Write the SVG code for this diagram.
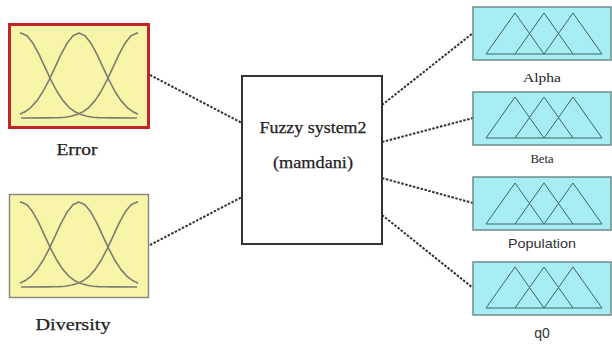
<svg xmlns="http://www.w3.org/2000/svg" xmlns:xlink="http://www.w3.org/1999/xlink" width="612" height="344" viewBox="0 0 612 344">
<style>
.in{fill:#f8f5a8}
.out{fill:#a6eef3;stroke:#6f8c8c;stroke-width:1.5}
.mf{fill:none;stroke:#7c7c70;stroke-width:1.6;stroke-linejoin:round}
.tri{fill:none;stroke:#3f6464;stroke-width:1}
.conn{fill:none;stroke:#333;stroke-width:2;stroke-dasharray:2.5 1.5}
.serif{font-family:'Liberation Serif','Times New Roman',serif;fill:#222;text-anchor:middle}
.heavy{stroke:#222;stroke-width:0.25}
.sans{font-family:'Liberation Sans',Arial,sans-serif;fill:#333;text-anchor:middle}
</style>
<defs>
<path id="g" d="M-116,0 L-90,-0.1 L-84,-0.2 L-78,-0.4 L-72,-0.8 L-66,-1.7 L-60,-3.4 L-54,-6.2 L-48,-10.7 L-42,-17.4 L-36,-26.5 L-30,-37.9 L-24,-50.7 L-18,-63.6 L-12,-74.7 L-6,-82.3 L0,-85 L6,-82.3 L12,-74.7 L18,-63.6 L24,-50.7 L30,-37.9 L36,-26.5 L42,-17.4 L48,-10.7 L54,-6.2 L60,-3.4 L66,-1.7 L72,-0.8 L78,-0.4 L84,-0.2 L90,-0.1 L116,0"/>
<clipPath id="gc"><rect x="-1" y="-90" width="118" height="93"/></clipPath>
<g id="gauss" clip-path="url(#gc)">
<use xlink:href="#g" class="mf"/>
<use xlink:href="#g" class="mf" x="58"/>
<use xlink:href="#g" class="mf" x="116"/>
</g>
<path id="tris" class="tri" d="M-29,41 L0,0 L29,41 M0,41 L29,0 L58,41 M29,41 L58,0 L87,41 M-29,41 H87"/>
</defs>

<g id="connectors">
<line class="conn" x1="150" y1="75" x2="242" y2="123"/>
<line class="conn" x1="150" y1="245" x2="242" y2="197"/>
<line class="conn" x1="382" y1="105" x2="473" y2="33"/>
<line class="conn" x1="382" y1="142" x2="473" y2="118"/>
<line class="conn" x1="382" y1="178" x2="473" y2="203"/>
<line class="conn" x1="382" y1="215" x2="473" y2="288"/>
</g>

<g id="error">
<rect class="in" x="9.5" y="24.5" width="139" height="103" stroke="#c0242a" stroke-width="3"/>
<use xlink:href="#gauss" transform="translate(21,118)"/>
<text class="serif heavy" x="77" y="155" font-size="17" textLength="41" lengthAdjust="spacingAndGlyphs">Error</text>
</g>

<g id="diversity">
<rect class="in" x="9.5" y="194.5" width="139" height="103" stroke="#8a8a80" stroke-width="1.5"/>
<use xlink:href="#gauss" transform="translate(21,287)"/>
<text class="serif heavy" x="73" y="330" font-size="17" textLength="75" lengthAdjust="spacingAndGlyphs">Diversity</text>
</g>

<g id="fuzzy">
<rect x="242" y="76" width="140" height="168" fill="#fff" stroke="#333" stroke-width="2"/>
<text class="serif heavy" x="313" y="133" font-size="17" textLength="107" lengthAdjust="spacingAndGlyphs">Fuzzy system2</text>
<text class="serif heavy" x="313" y="168" font-size="17" textLength="80" lengthAdjust="spacingAndGlyphs">(mamdani)</text>
</g>

<g id="alpha">
<rect class="out" x="473" y="7" width="138" height="53"/>
<use xlink:href="#tris" transform="translate(515,13)"/>
<text class="serif" x="542" y="82" font-size="13" textLength="38" lengthAdjust="spacingAndGlyphs">Alpha</text>
</g>

<g id="beta">
<rect class="out" x="473" y="92" width="138" height="53"/>
<use xlink:href="#tris" transform="translate(515,97)"/>
<text class="serif" x="542" y="163" font-size="13" textLength="23" lengthAdjust="spacingAndGlyphs">Beta</text>
</g>

<g id="population">
<rect class="out" x="473" y="177" width="138" height="53"/>
<use xlink:href="#tris" transform="translate(515,183)"/>
<text class="sans" x="542" y="248" font-size="13" textLength="68" lengthAdjust="spacingAndGlyphs">Population</text>
</g>

<g id="q0">
<rect class="out" x="473" y="262" width="138" height="53"/>
<use xlink:href="#tris" transform="translate(515,267)"/>
<text class="sans" x="542" y="338" font-size="14">q0</text>
</g>
</svg>
